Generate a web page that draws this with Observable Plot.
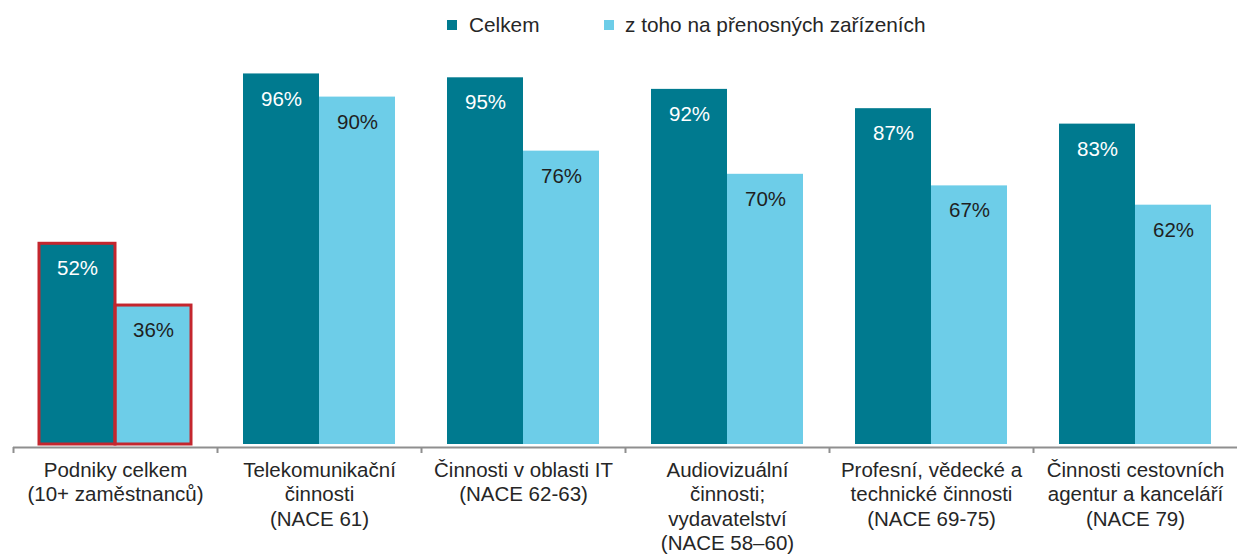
<!DOCTYPE html>
<html>
<head>
<meta charset="utf-8">
<script src="https://cdn.jsdelivr.net/npm/d3@7"></script>
<script src="https://cdn.jsdelivr.net/npm/@observablehq/plot@0.6"></script>
<style>
  body { margin: 0; background: #fff; font-family: "Liberation Sans", Arial, sans-serif; }
  #legend { position: relative; height: 55px; width: 1237px; font-size: 20.8px; color: #262626; }
  #legend .sw { position: absolute; width: 10px; height: 10px; top: 20px; }
  #legend .lb { position: absolute; top: 13px; line-height: 24px; white-space: nowrap; }
</style>
</head>
<body>
<div id="legend"></div>
<div id="chart"></div>
<script>
const groups = [
  "Podniky celkem\n(10+ zaměstnanců)",
  "Telekomunikační\nčinnosti\n(NACE 61)",
  "Činnosti v oblasti IT\n(NACE 62-63)",
  "Audiovizuální\nčinnosti;\nvydavatelství\n(NACE 58–60)",
  "Profesní, vědecké a\ntechnické činnosti\n(NACE 69-75)",
  "Činnosti cestovních\nagentur a kanceláří\n(NACE 79)"
];
const series = ["Celkem", "z toho na přenosných zařízeních"];
const celkem = [52, 96, 95, 92, 87, 83];
const prenosne = [36, 90, 76, 70, 67, 62];
const colors = ["#007A8F", "#6DCDE8"];

const data = [];
groups.forEach((g, i) => {
  data.push({group: g, series: series[0], value: celkem[i]});
  data.push({group: g, series: series[1], value: prenosne[i]});
});
const highlighted = data.filter(d => d.group === groups[0]);

// legend
const legend = document.getElementById("legend");
const legendPos = [[447, 469], [604, 625]];
series.forEach((s, i) => {
  const sw = document.createElement("div");
  sw.className = "sw"; sw.style.left = legendPos[i][0] + "px"; sw.style.background = colors[i];
  const lb = document.createElement("div");
  lb.className = "lb"; lb.style.left = legendPos[i][1] + "px"; lb.textContent = s;
  legend.appendChild(sw); legend.appendChild(lb);
});

const plot = Plot.plot({
  width: 1237,
  height: 500,
  marginLeft: 12,
  marginRight: 0,
  marginTop: 3,
  marginBottom: 111,
  style: {fontFamily: "'Liberation Sans', Arial, sans-serif", fontSize: "20.5px", color: "#262626", background: "#fff"},
  fx: {domain: groups, paddingInner: 0, paddingOuter: 0, label: null, axis: null},
  x: {domain: series, paddingInner: 0, paddingOuter: 0.342, axis: null},
  y: {domain: [0, 100], axis: null},
  color: {domain: series, range: colors},
  marks: [
    Plot.barY(data, {fx: "group", x: "series", y: "value", fill: "series"}),
    Plot.barY(highlighted, {fx: "group", x: "series", y: "value", fill: "none", stroke: "#C4262E", strokeWidth: 3}),
    Plot.text(data.filter(d => d.series === series[0]), {fx: "group", x: "series", y: "value", text: d => d.value + "%", dy: 25, fill: "#ffffff", fontSize: 20.5}),
    Plot.text(data.filter(d => d.series === series[1]), {fx: "group", x: "series", y: "value", text: d => d.value + "%", dy: 25, fill: "#1f1f1f", fontSize: 20.5}),
    Plot.ruleY([0], {stroke: "#8f8f8f", strokeWidth: 2, dy: 3}),
    Plot.axisFx({anchor: "bottom", tickSize: 0, tickPadding: 15, label: null, lineHeight: 1.19, fontSize: 20.5, fill: "#262626"})
  ]
});
document.getElementById("chart").appendChild(plot);

// boundary tick marks below the axis line, positioned with Plot's fx scale
const fx = plot.scale("fx");
const svg = d3.select(plot);
const y0 = plot.scale("y").apply(0) + 3;
const edges = groups.map(g => fx.apply(g));
svg.append("g").selectAll("line").data(edges).join("line")
  .attr("x1", d => d + 0.5).attr("x2", d => d + 0.5)
  .attr("y1", y0).attr("y2", y0 + 6)
  .attr("stroke", "#8f8f8f").attr("stroke-width", 2);
</script>
</body>
</html>
